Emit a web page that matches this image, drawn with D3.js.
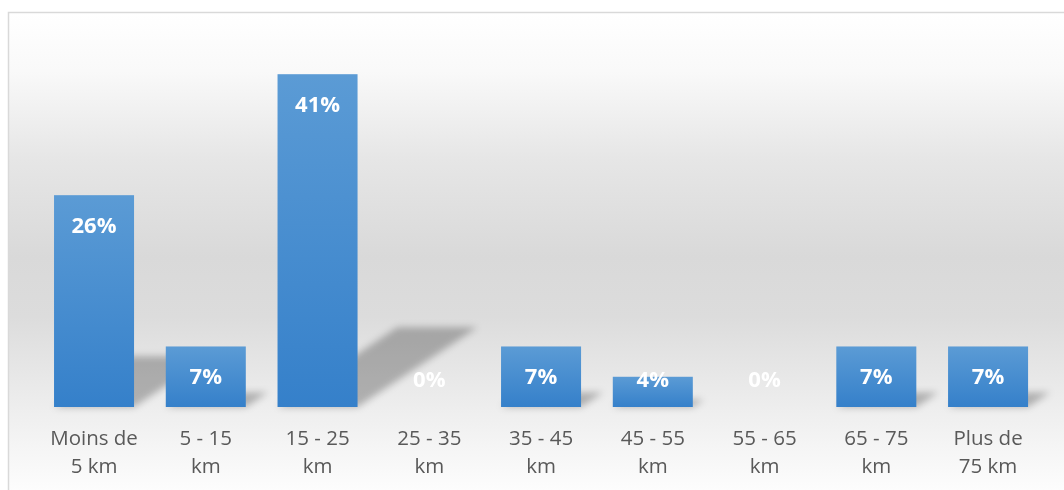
<!DOCTYPE html>
<html><head><meta charset="utf-8">
<script src="https://cdn.jsdelivr.net/npm/d3@7"></script>
<style>html,body{margin:0;padding:0;background:#fff;}svg{display:block;}</style>
</head><body>
<svg id="chart" width="1064" height="490"></svg>
<script>
const categories = [["Moins de","5 km"],["5 - 15","km"],["15 - 25","km"],["25 - 35","km"],["35 - 45","km"],["45 - 55","km"],["55 - 65","km"],["65 - 75","km"],["Plus de","75 km"]];
const values = [25.93, 7.41, 40.74, 0, 7.41, 3.70, 0, 7.41, 7.41];
const valueLabels = ["26%","7%","41%","0%","7%","4%","0%","7%","7%"];

const svg = d3.select("#chart");
const defs = svg.append("defs");

const bg = defs.append("linearGradient").attr("id","bg").attr("x1",0).attr("y1",0).attr("x2",0).attr("y2",1);
[[0,"#ffffff"],[0.12,"#f9f9f9"],[0.3,"#e6e6e6"],[0.5,"#d9d9d9"],[0.62,"#dcdcdc"],[0.82,"#efefef"],[1,"#ffffff"]]
  .forEach(([o,c])=>bg.append("stop").attr("offset",o).attr("stop-color",c));

const barG = defs.append("linearGradient").attr("id","barg").attr("x1",0).attr("y1",0).attr("x2",0).attr("y2",1);
barG.append("stop").attr("offset",0).attr("stop-color","#5b9bd5");
barG.append("stop").attr("offset",1).attr("stop-color","#3580ca");

defs.append("filter").attr("id","blur").attr("x","-50%").attr("y","-50%").attr("width","200%").attr("height","200%")
  .append("feGaussianBlur").attr("stdDeviation",3.5);

// panel
svg.append("rect").attr("x",8.5).attr("y",12.5).attr("width",1100).attr("height",490)
  .attr("fill","url(#bg)").attr("stroke","#d9d9d9").attr("stroke-width",1.5);

const x = d3.scaleBand().domain(d3.range(categories.length)).range([20.5, 1061.6]).paddingInner(0.284).paddingOuter(0.3);
const y = d3.scaleLinear().domain([0, 45]).range([407, 39.4]);

// perspective shadows
const sh = svg.append("g").attr("filter","url(#blur)");
values.forEach((v,i)=>{
  const h = y(0) - y(v);
  if (h <= 0) return;
  const sy = h*0.24, dx = h*0.36;
  const x0 = x(i), x1 = x(i)+x.bandwidth(), b = y(0);
  sh.append("path")
    .attr("d",`M${x0},${b}L${x1},${b}L${x1+dx},${b-sy}L${x0+dx},${b-sy}Z`)
    .attr("fill","#000").attr("opacity",0.26);
});

// bars
svg.append("g").selectAll("rect").data(values).join("rect")
  .attr("x",(d,i)=>x(i)).attr("width",x.bandwidth())
  .attr("y",d=>y(d)).attr("height",d=>y(0)-y(d))
  .attr("fill","url(#barg)");

// value labels
svg.append("g").selectAll("text").data(values).join("text")
  .attr("x",(d,i)=>x(i)+x.bandwidth()/2)
  .attr("y",d=>Math.min(y(d)+30, y(0)-28))
  .attr("dy","0.35em")
  .attr("text-anchor","middle")
  .attr("font-family","'Open Sans', sans-serif").attr("font-weight","bold").attr("font-size",22)
  .attr("fill","#ffffff")
  .text((d,i)=>valueLabels[i]);

// category labels
const cl = svg.append("g").selectAll("text").data(categories).join("text")
  .attr("x",(d,i)=>x(i)+x.bandwidth()/2)
  .attr("y",445)
  .attr("text-anchor","middle")
  .attr("font-family","'Open Sans', sans-serif").attr("font-size",20.5)
  .attr("fill","#595959");
cl.each(function(d,i){
  const t = d3.select(this);
  d.forEach((line,j)=>t.append("tspan").attr("x",x(i)+x.bandwidth()/2).attr("dy", j===0?0:28).text(line));
});
</script>
</body></html>
